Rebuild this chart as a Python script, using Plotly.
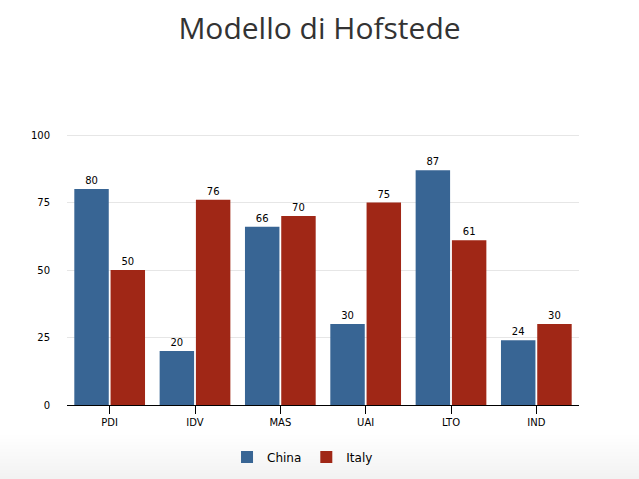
import plotly.graph_objects as go

categories = ["PDI", "IDV", "MAS", "UAI", "LTO", "IND"]
china = [80, 20, 66, 30, 87, 24]
italy = [50, 76, 70, 75, 61, 30]
y_ticks = [0, 25, 50, 75, 100]

fig = go.Figure()
fig.add_trace(go.Bar(name="China", x=categories, y=china, text=china,
                     textposition="outside", marker_color="#386594",
                     marker_line_width=0,
                     textfont=dict(size=10, color="#000", family="DejaVu Sans"),
                     cliponaxis=False))
fig.add_trace(go.Bar(name="Italy", x=categories, y=italy, text=italy,
                     textposition="outside", marker_color="#A02716",
                     marker_line_width=0,
                     textfont=dict(size=10, color="#000", family="DejaVu Sans"),
                     cliponaxis=False))

# subtle bottom gradient background
shapes = []
n = 15
top = -0.11
bottom = -0.3
for i in range(n):
    y1 = top - (top - bottom) * i / n
    shapes.append(dict(type="rect", xref="paper", yref="paper",
                       x0=-0.2, x1=1.2, y0=bottom, y1=y1,
                       fillcolor="rgba(200,200,200,0.018)", line=dict(width=0),
                       layer="below"))

fig.update_layout(
    width=639, height=479,
    margin=dict(l=67, r=60, t=134, b=74, autoexpand=False),
    paper_bgcolor="white", plot_bgcolor="rgba(0,0,0,0)",
    title=dict(text="Modello di Hofstede", x=0.5, xanchor="center",
               y=0.94, yanchor="middle",
               font=dict(family="Open Sans", size=30, color="#333333")),
    barmode="group", bargap=0.15, bargroupgap=0.05,
    showlegend=True,
    legend=dict(orientation="h", x=0.46, xanchor="center",
                yref="container", y=0.046, yanchor="middle",
                bgcolor="rgba(0,0,0,0)",
                font=dict(family="DejaVu Sans", size=12, color="#000")),
    xaxis=dict(showline=True, linecolor="#000", linewidth=1, ticks="outside",
               ticklen=8, tickcolor="#000",
               tickfont=dict(family="DejaVu Sans", size=10, color="#000")),
    yaxis=dict(range=[0, 100.4], tickvals=y_ticks, showgrid=True, gridcolor="#e6e6e6",
               zeroline=False, showline=False, ticks="", ticklabelstandoff=16,
               tickfont=dict(family="DejaVu Sans", size=10, color="#000")),
    shapes=shapes,
)

fig.write_html("out.html")
